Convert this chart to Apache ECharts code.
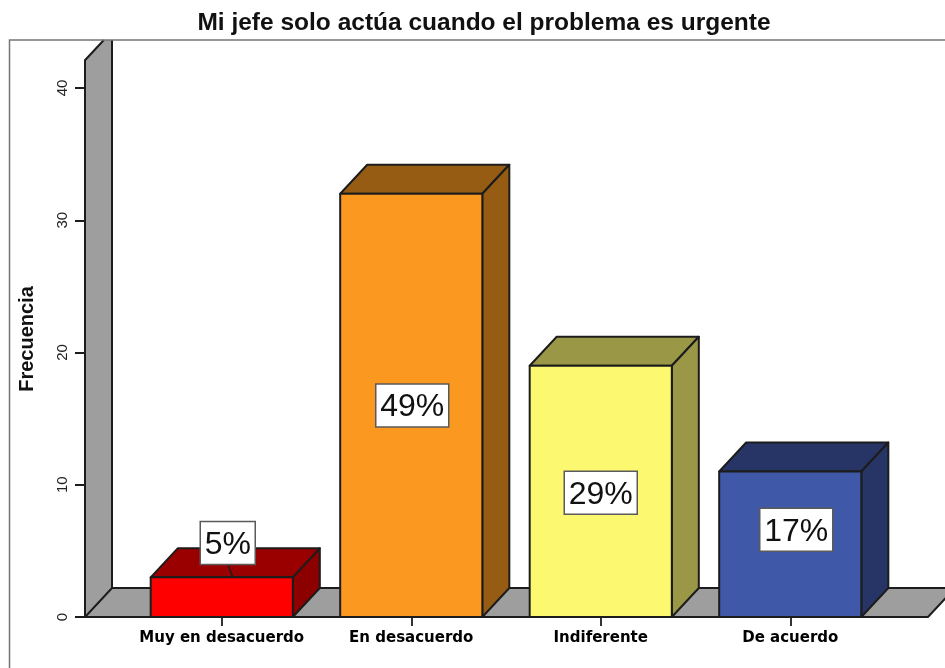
<!DOCTYPE html>
<html>
<head>
<meta charset="utf-8">
<style>html,body{margin:0;padding:0;background:#fff}#c{width:945px;height:668px}</style>
<script src="https://cdn.jsdelivr.net/npm/echarts@6/dist/echarts.min.js"></script>
</head>
<body>
<div id="c"></div>
<script>
const titleText = 'Mi jefe solo actúa cuando el problema es urgente';
const yName = 'Frecuencia';
const categories = ['Muy en desacuerdo', 'En desacuerdo', 'Indiferente', 'De acuerdo'];
const frequencies = [3, 32, 19, 11];
const percentLabels = ['5%', '49%', '29%', '17%'];
const labelLevels = [5.6, 16, 9.4, 6.6];
const labelShiftX = [6, 1, 0, 6];
const frontColors = ['#ff0000', '#fa981f', '#fcf870', '#3f58a8'];
const topColors = ['#9b0000', '#965c13', '#9a9747', '#263566'];
const sideColors = ['#8c0000', '#965c13', '#9a9747', '#263566'];

const DX = 27, DY = 29, EDGE = '#1c1c1c', WALL = '#9e9e9e';
const chart = echarts.init(document.getElementById('c'), null, {renderer: 'canvas'});

function poly(points, fill, z2) {
  return {type: 'polygon', z2: z2 || 0, shape: {points},
    style: {fill, stroke: EDGE, lineWidth: 2, lineJoin: 'round'}};
}

function renderBackdrop(params, api) {
  const cs = params.coordSys;
  const base = api.coord([0, 0]);
  const top = api.coord([0, 42.1]);
  const x0 = cs.x - 42, y0 = base[1], yTop = top[1];
  const frameY = 40;
  const cutX = x0 + DX * (yTop - frameY) / DY;
  const right = cs.x + cs.width + 43;
  return {type: 'group', children: [
    {type: 'polygon', shape: {points: [[x0, y0], [x0, yTop], [cutX, frameY], [x0 + DX, frameY], [x0 + DX, y0 - DY]]},
      style: {fill: WALL}},
    {type: 'polygon', shape: {points: [[x0, y0], [right, y0], [right + DX, y0 - DY], [x0 + DX, y0 - DY]]},
      style: {fill: WALL, stroke: EDGE, lineWidth: 2}},
    {type: 'polyline', shape: {points: [[x0, y0], [x0, yTop], [cutX, frameY]]},
      style: {fill: null, stroke: EDGE, lineWidth: 2}},
    {type: 'line', shape: {x1: x0 + DX, y1: frameY, x2: x0 + DX, y2: y0 - DY},
      style: {stroke: EDGE, lineWidth: 2}}
  ]};
}

function renderBar(params, api) {
  const i = api.value(0);
  const c = api.coord([i, api.value(1)]);
  const b = api.coord([i, 0]);
  const w = api.size([1, 0])[0] * 0.75;
  const l = c[0] - w / 2, r = c[0] + w / 2, t = c[1], y0 = b[1];
  const lab = api.coord([i, labelLevels[i]]);
  const lx = lab[0] + labelShiftX[i], ly = lab[1];
  const bw = percentLabels[i].length > 2 ? 73 : 55, bh = 43;
  const kids = [
    poly([[l, t], [r, t], [r + DX, t - DY], [l + DX, t - DY]], topColors[i]),
    poly([[r, t], [r + DX, t - DY], [r + DX, y0 - DY], [r, y0]], sideColors[i]),
    poly([[l, t], [r, t], [r, y0], [l, y0]], frontColors[i])
  ];
  if (ly + bh / 2 < t) {
    kids.push({type: 'line', shape: {x1: lx, y1: ly + bh / 2, x2: lx + 5, y2: t},
      style: {stroke: EDGE, lineWidth: 1.5}});
  }
  kids.push({type: 'rect', shape: {x: lx - bw / 2, y: ly - bh / 2, width: bw, height: bh},
    style: {fill: '#ffffff', stroke: '#5a5a5a', lineWidth: 1.5}});
  kids.push({type: 'text', style: {x: lx, y: ly + 2, text: percentLabels[i], align: 'center', verticalAlign: 'middle',
    fill: '#111', font: '32px "Liberation Sans", Arial, sans-serif'}});
  return {type: 'group', children: kids};
}

chart.setOption({
  animation: false,
  backgroundColor: '#ffffff',
  title: {text: titleText, left: 479, top: 6, textAlign: 'center',
    textStyle: {fontFamily: '"Liberation Sans", Arial, sans-serif', fontSize: 24.5, fontWeight: 'bold', color: '#111'}},
  grid: {left: 127, width: 758, top: -44.25, bottom: 51, containLabel: false, outerBoundsMode: 'none'},
  xAxis: {type: 'category', data: categories, boundaryGap: true,
    axisLine: {show: false},
    axisTick: {show: true, alignWithLabel: true, length: 9, lineStyle: {color: '#333', width: 2}},
    axisLabel: {interval: 0, margin: 14, color: '#000',
      fontFamily: '"DejaVu Sans", sans-serif', fontSize: 15, fontWeight: 'bold'}},
  yAxis: {type: 'value', min: 0, max: 50, interval: 10, offset: 42,
    axisLine: {show: false},
    axisTick: {show: true, length: 10, lineStyle: {color: EDGE, width: 2}},
    axisLabel: {rotate: 90, margin: 15, color: '#222', showMaxLabel: false,
      fontFamily: '"Liberation Sans", Arial, sans-serif', fontSize: 15},
    splitLine: {show: false}},
  series: [
    {type: 'custom', z: 1, silent: true, clip: false, coordinateSystem: 'cartesian2d',
      data: [[0, 0]], encode: {x: 0, y: 1}, renderItem: renderBackdrop},
    {type: 'custom', z: 2, clip: false, coordinateSystem: 'cartesian2d',
      data: frequencies.map((v, i) => [i, v]), encode: {x: 0, y: 1}, renderItem: renderBar}
  ],
  graphic: [
    {type: 'polyline', z: 50, silent: true, shape: {points: [[9.5, 668], [9.5, 40], [945, 40]]},
      style: {fill: null, stroke: '#757575', lineWidth: 1.5}},
    {type: 'text', z: 50, silent: true, x: 27, y: 339, rotation: Math.PI / 2,
      style: {text: yName, align: 'center', verticalAlign: 'middle', fill: '#111',
        font: 'bold 20px "Liberation Sans", Arial, sans-serif'}}
  ]
});
</script>
</body>
</html>
